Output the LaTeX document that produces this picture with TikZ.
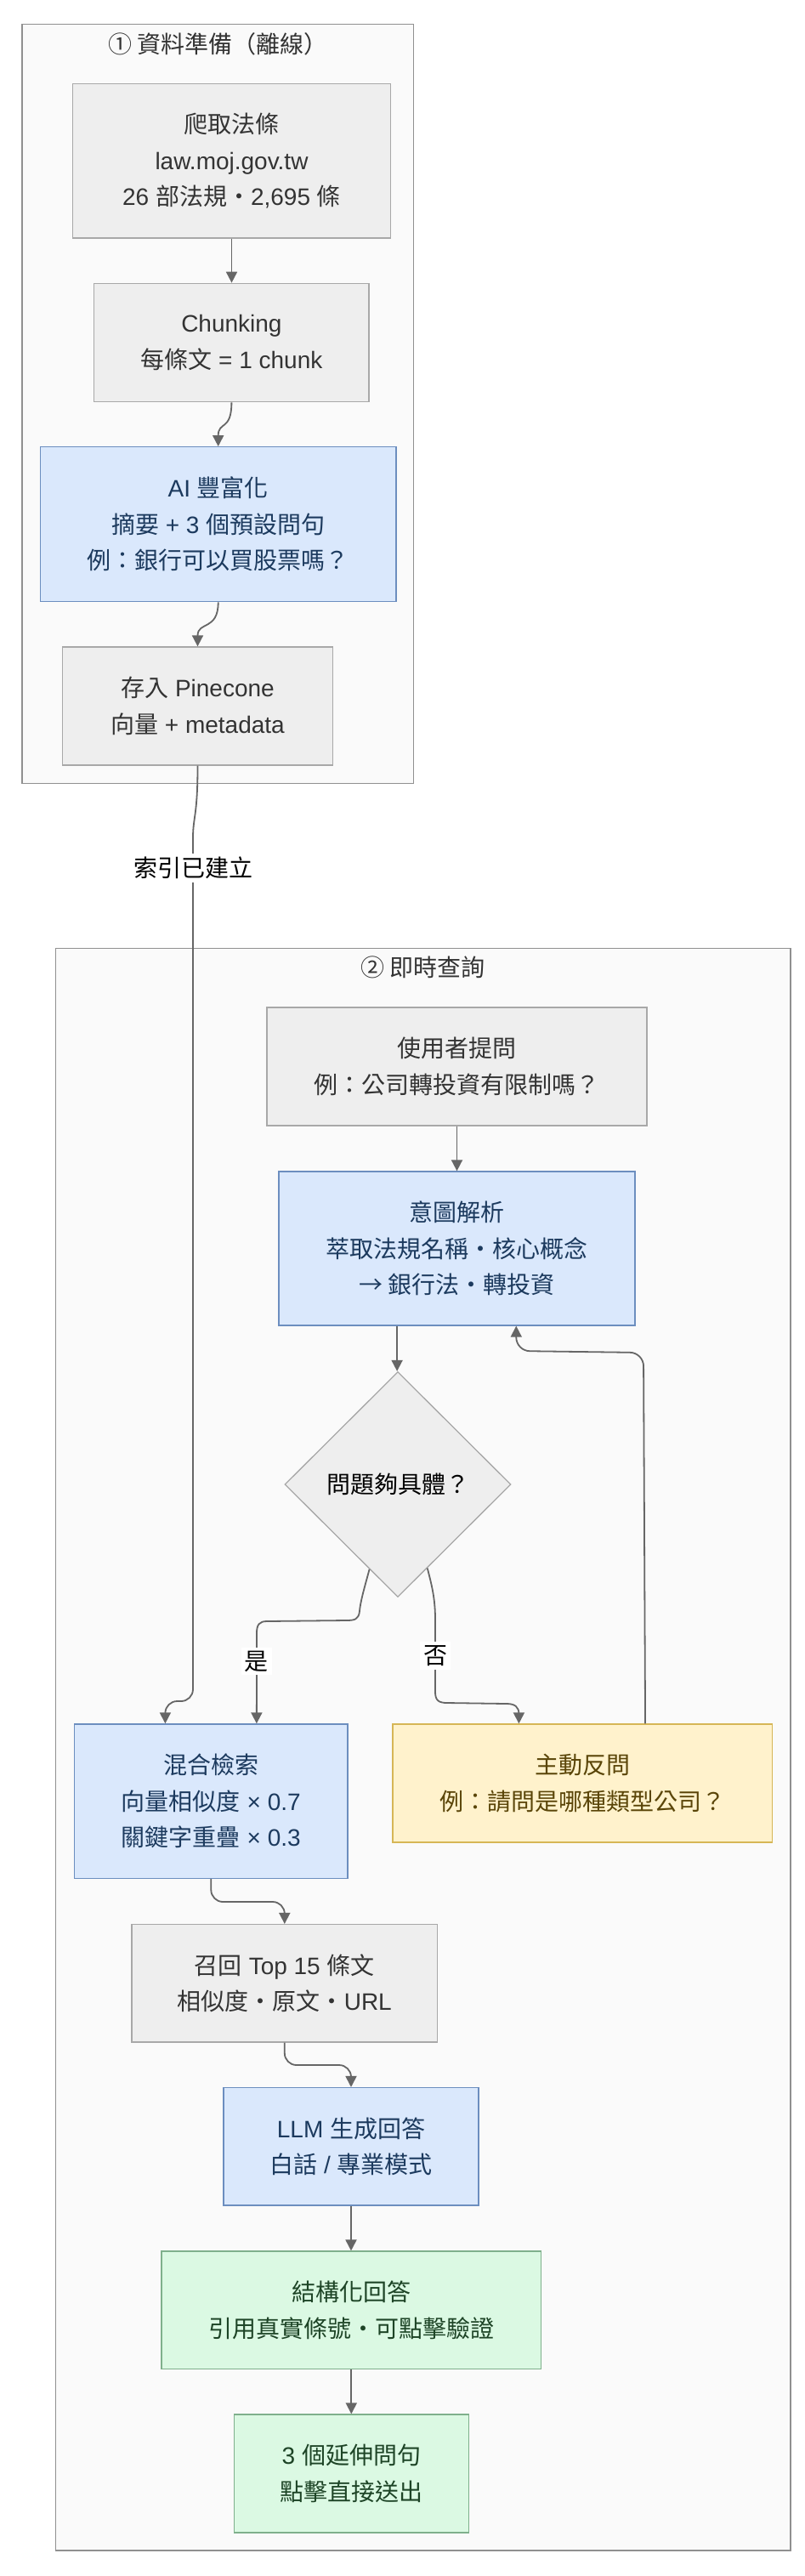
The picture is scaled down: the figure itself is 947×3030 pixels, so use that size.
\documentclass[tikz,border=0pt]{standalone}
\usepackage{fontspec}
\setmainfont{Liberation Sans}
\newfontfamily\cjk{Noto Sans CJK TC}
\newcommand{\zh}[1]{{\cjk #1}}
\usetikzlibrary{arrows.meta,shapes.geometric,calc}
\definecolor{gfill}{HTML}{EEEEEE}
\definecolor{gdraw}{HTML}{A8A8A8}
\definecolor{gtext}{HTML}{333333}
\definecolor{bfill}{HTML}{DAE8FC}
\definecolor{bdraw}{HTML}{6C8EBF}
\definecolor{btext}{HTML}{1C3A5E}
\definecolor{yfill}{HTML}{FFF2CC}
\definecolor{ydraw}{HTML}{D6B656}
\definecolor{ytext}{HTML}{5A4508}
\definecolor{nfill}{HTML}{DBF9E3}
\definecolor{ndraw}{HTML}{7FB08C}
\definecolor{ntext}{HTML}{1D4426}
\definecolor{cfill}{HTML}{FAFAFA}
\definecolor{cdraw}{HTML}{909090}
\definecolor{ecol}{HTML}{666666}
\tikzset{
  box/.style={draw, line width=1.3pt, inner sep=0pt, align=center,
    font=\fontsize{28}{42.5}\selectfont},
  graybox/.style={box, fill=gfill, draw=gdraw, text=gtext},
  bluebox/.style={box, fill=bfill, draw=bdraw, text=btext},
  yelbox/.style={box, fill=yfill, draw=ydraw, text=ytext},
  grnbox/.style={box, fill=nfill, draw=ndraw, text=ntext},
  cluster/.style={draw=cdraw, fill=cfill, line width=1.5pt, inner sep=0pt},
  ctitle/.style={inner sep=0pt, text=gtext, font=\fontsize{28}{34}\selectfont},
  decide/.style={shape=diamond, draw=gdraw, fill=gfill, line width=1.3pt, inner sep=0pt,
    text=black, font=\fontsize{28}{34}\selectfont},
  lbl/.style={fill=white, text=black, inner sep=4pt, font=\fontsize{28}{34}\selectfont},
  edge/.style={draw=ecol, line width=1.8pt, -{Triangle[length=13pt,width=13pt]}},
}
\begin{document}
\begin{tikzpicture}[x=1pt,y=-1pt]
\path[use as bounding box, fill=white] (0,0) rectangle (947,3030);

% clusters
\node[cluster, minimum width=460.7pt, minimum height=893.4pt] (c1) at (256.35,475) {};
\node[cluster, minimum width=864.5pt, minimum height=1884.5pt] (c2) at (497.75,2057.75) {};
\node[ctitle] (t1) at (256.35,52) {\zh{① 資料準備（離線）}};
\node[ctitle] (t2) at (497.75,1138) {\zh{② 即時查詢}};

% stage 1 nodes
\node[graybox, minimum width=373.6pt, minimum height=181.7pt] (n1) at (272.5,189.2)
  {\zh{爬取法條}\\law.moj.gov.tw\\26 \zh{部法規・}2,695 \zh{條}};
\node[graybox, minimum width=323.3pt, minimum height=139.4pt] (n2) at (272.4,403)
  {Chunking\\\zh{每條文} = 1 chunk};
\node[bluebox, minimum width=418.7pt, minimum height=182pt] (n3) at (256.7,616.7)
  {AI \zh{豐富化}\\\zh{摘要} + 3 \zh{個預設問句}\\\zh{例：銀行可以買股票嗎？}};
\node[graybox, minimum width=318.4pt, minimum height=139pt] (n4) at (232.5,830.5)
  {\zh{存入} Pinecone\\\zh{向量} + metadata};

% stage 2 nodes
\node[graybox, minimum width=447pt, minimum height=139pt] (n5) at (537.5,1254.5)
  {\zh{使用者提問}\\\zh{例：公司轉投資有限制嗎？}};
\node[bluebox, minimum width=419pt, minimum height=181pt] (n6) at (537.5,1468.5)
  {\zh{意圖解析}\\\zh{萃取法規名稱・核心概念}\\\zh{→ 銀行法・轉投資}};
\node[decide, minimum width=266pt, minimum height=265pt] (d) at (468,1746)
  {\zh{問題夠具體？}};
\node[bluebox, minimum width=321.4pt, minimum height=181.5pt] (n7) at (248.3,2118.7)
  {\zh{混合檢索}\\\zh{向量相似度} × 0.7\\\zh{關鍵字重疊} × 0.3};
\node[yelbox, minimum width=446.5pt, minimum height=139pt] (n8) at (685.2,2097.5)
  {\zh{主動反問}\\\zh{例：請問是哪種類型公司？}};
\node[graybox, minimum width=359.6pt, minimum height=138.5pt] (n9) at (334.8,2332.8)
  {\zh{召回} Top 15 \zh{條文}\\\zh{相似度・原文・}URL};
\node[bluebox, minimum width=300pt, minimum height=138.4pt] (n10) at (413,2524.8)
  {LLM \zh{生成回答}\\\zh{白話} / \zh{專業模式}};
\node[grnbox, minimum width=446.6pt, minimum height=138.5pt] (n11) at (413.3,2717.3)
  {\zh{結構化回答}\\\zh{引用真實條號・可點擊驗證}};
\node[grnbox, minimum width=276.1pt, minimum height=139pt] (n12) at (413.4,2909.5)
  {3 \zh{個延伸問句}\\\zh{點擊直接送出}};

% helper points on borders
\coordinate (n6out) at ($(n6.south west)!0.3325!(n6.south east)$);
\coordinate (n6in) at ($(n6.south west)!0.666!(n6.south east)$);
\coordinate (n7inA) at ($(n7.north west)!0.333!(n7.north east)$);
\coordinate (n7inB) at ($(n7.north west)!0.666!(n7.north east)$);
\coordinate (n8in) at ($(n8.north west)!0.333!(n8.north east)$);
\coordinate (n8out) at ($(n8.north west)!0.665!(n8.north east)$);
\coordinate (dyes) at ($(d.south)!0.25!(d.west)$);
\coordinate (dno) at ($(d.south)!0.26!(d.east)$);

% stage 1 edges
\draw[edge] (n1.south) -- (n1.south |- n2.north);
\draw[edge] (n2.south) .. controls +(0,34) and +(0,-30) .. (n3.north);
\draw[edge] (n3.south) .. controls +(0,34) and +(0,-30) .. (n4.north);

% index edge
\draw[edge, rounded corners=14pt] (n4.south) .. controls +(0,60) and +(0,-40) .. (227,1000)
  -- node[lbl, pos=0.021] (il) {\zh{索引已建立}} (227,2001) -- (n7inA |- 0,2001) -- (n7inA);

% stage 2 edges
\draw[edge] (n5.south) -- (n5.south |- n6.north);
\draw[edge] (n6out) -- (n6out |- d.north);
\draw[edge] (dyes) .. controls (428,1870) and (424,1884) .. (423,1895)
  .. controls (422,1905) and (417,1906) .. (407,1906) -- (314,1907)
  .. controls (305,1907) and (302,1911) .. (302,1921)
  -- node[lbl, pos=0.31] (yl) {\zh{是}} (n7inB);
\draw[edge] (dno) .. controls (508,1865) and (512,1880) .. (512,1905)
  -- node[lbl, pos=0.5] (nl) {\zh{否}} (512,1990)
  .. controls (512,2000) and (516,2003) .. (526,2003) -- (596,2004)
  .. controls (606,2004) and (n8in |- 0,2008) .. (n8in |- 0,2016) -- (n8in);
\draw[edge, rounded corners=16pt] (n8out) -- (757,1591) -- (n6in |- 0,1589) -- (n6in);
\draw[edge, rounded corners=14pt] (n7.south) -- (n7.south |- 0,2237) -- (n9.north |- 0,2237) -- (n9.north);
\draw[edge, rounded corners=14pt] (n9.south) -- (n9.south |- 0,2429) -- (n10.north |- 0,2429) -- (n10.north);
\draw[edge] (n10.south) -- (n10.south |- n11.north);
\draw[edge] (n11.south) -- (n11.south |- n12.north);
\end{tikzpicture}
\end{document}
